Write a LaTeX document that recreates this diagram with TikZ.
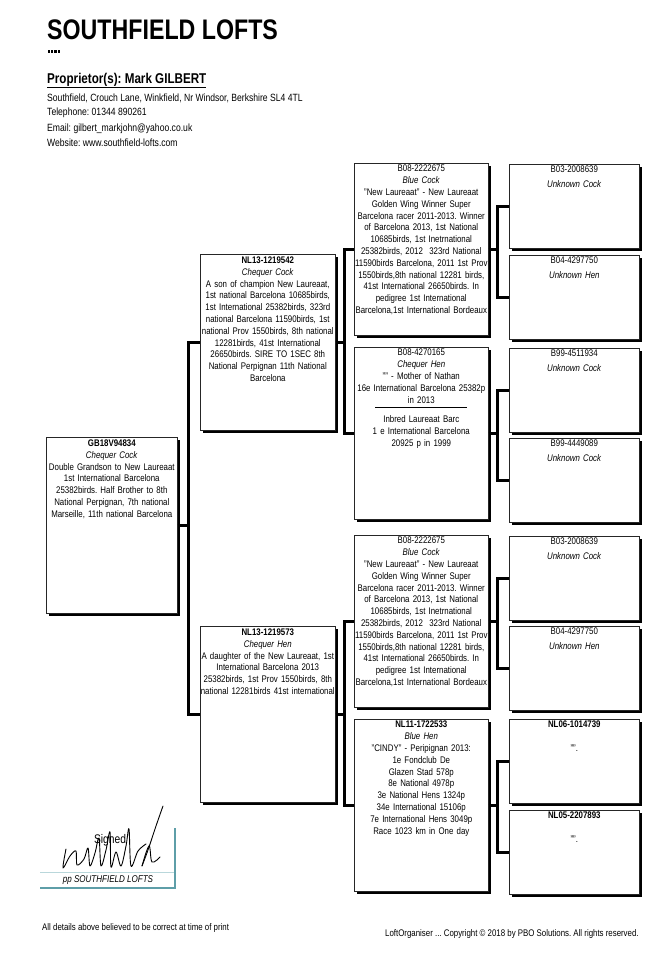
\documentclass[tikz,border=0pt]{standalone}
\usepackage{fontspec}
\setmainfont{Liberation Sans}[FakeStretch=0.82]
\usetikzlibrary{positioning,shadows}
\frenchspacing
\definecolor{sig}{HTML}{5E9EA8}
\definecolor{sigl}{HTML}{B9D7DB}
\tikzset{
  kasten/.style={draw=black!85,line width=0.6pt,fill=white,anchor=north west,inner sep=0pt,
    general shadow={fill=black,shadow xshift=3pt,shadow yshift=-3pt}},
  gen1/.style={kasten,minimum width=131pt,minimum height=176pt},
  gen2/.style={kasten,minimum width=135pt,minimum height=176pt},
  gen3/.style={kasten,minimum width=134pt,minimum height=172pt},
  gen4/.style={kasten,minimum width=130pt,minimum height=84pt},
  txt/.style={align=center,inner sep=0pt,text width=#1,font=\fontsize{9.6}{11.8}\selectfont},
  adr/.style={anchor=base west,inner sep=0pt,font=\fontsize{10.5}{12}\selectfont},
  fuss/.style={anchor=base west,inner sep=0pt,font=\fontsize{9.6}{11}\selectfont},
  linie/.style={line width=2.4pt,line join=miter},
}

\begin{document}
\begin{tikzpicture}[x=1pt,y=-1pt]
  \fill[white] (0,0) rectangle (657,962);
  \useasboundingbox (0,0) rectangle (657,962);
  % Kopf
  \node[anchor=base west,inner sep=0pt,font=\bfseries\fontsize{28.3}{30}\selectfont] (titel) at (47,39) {SOUTHFIELD LOFTS};
  \foreach \i in {0,...,3} \fill (48+\i*3.2,50) rectangle ++(2.2,2.6);
  \node[anchor=base west,inner sep=0pt,font=\bfseries\fontsize{14.2}{16}\selectfont] (inhaber) at (47,83) {\underline{Proprietor(s): Mark GILBERT}};
  \node[adr] (adresse) at (47,101) {Southfield, Crouch Lane, Winkfield, Nr Windsor, Berkshire SL4 4TL};
  \node[adr] (telefon) at (47,115.5) {Telephone: 01344 890261};
  \node[adr] (email) at (47,131) {Email: gilbert\_markjohn@yahoo.co.uk};
  \node[adr] (web) at (47,146) {Website: www.southfield-lofts.com};

  % Taube
  \node[gen1] (g1) at (46,437) {};
  \node[txt=129pt,below=2.5pt of g1.north] (g1t) {\textbf{GB18V94834}\\\textit{Chequer Cock}\\Double Grandson to New Laureaat\\1st International Barcelona\\25382birds. Half Brother to 8th\\National Perpignan, 7th national\\Marseille, 11th national Barcelona};

  % Eltern
  \node[gen2] (g2a) at (200,254) {};
  \node[txt=135pt,below=2.5pt of g2a.north] (g2at) {\textbf{NL13-1219542}\\\textit{Chequer Cock}\\A son of champion New Laureaat,\\1st national Barcelona 10685birds,\\1st International 25382birds, 323rd\\national Barcelona 11590birds, 1st\\national Prov 1550birds, 8th national\\12281birds, 41st International\\26650birds. SIRE TO 1SEC 8th\\National Perpignan 11th National\\Barcelona};
  \node[gen2] (g2b) at (200,626) {};
  \node[txt=135pt,below=2.5pt of g2b.north] (g2bt) {\textbf{NL13-1219573}\\\textit{Chequer Hen}\\A daughter of the New Laureaat, 1st\\International Barcelona 2013\\25382birds, 1st Prov 1550birds, 8th\\national 12281birds 41st international};

  % Grosseltern
  \node[gen3] (g3a) at (354,163) {};
  \node[txt=134pt,below=2pt of g3a.north] (g3at) {B08-2222675\\\textit{Blue Cock}\\"New Laureaat" - New Laureaat\\Golden Wing Winner Super\\Barcelona racer 2011-2013. Winner\\of Barcelona 2013, 1st National\\10685birds, 1st Inetrnational\\25382birds, 2012~~323rd National\\11590birds Barcelona, 2011 1st Prov\\1550birds,8th national 12281 birds,\\41st International 26650birds. In\\pedigree 1st International\\Barcelona,1st International Bordeaux};
  \node[gen3] (g3b) at (354,347) {};
  \node[txt=134pt,below=2pt of g3b.north] (g3bt) {B08-4270165\\\textit{Chequer Hen}\\"" - Mother of Nathan\\16e International Barcelona 25382p\\in 2013\\\rule[7pt]{92pt}{0.7pt}\\[-4pt]Inbred Laureaat Barc\\1 e International Barcelona\\20925 p in 1999};
  \node[gen3] (g3c) at (354,535) {};
  \node[txt=134pt,below=2pt of g3c.north] (g3ct) {B08-2222675\\\textit{Blue Cock}\\"New Laureaat" - New Laureaat\\Golden Wing Winner Super\\Barcelona racer 2011-2013. Winner\\of Barcelona 2013, 1st National\\10685birds, 1st Inetrnational\\25382birds, 2012~~323rd National\\11590birds Barcelona, 2011 1st Prov\\1550birds,8th national 12281 birds,\\41st International 26650birds. In\\pedigree 1st International\\Barcelona,1st International Bordeaux};
  \node[gen3] (g3d) at (354,719) {};
  \node[txt=134pt,below=2pt of g3d.north] (g3dt) {\textbf{NL11-1722533}\\\textit{Blue Hen}\\"CINDY" - Peripignan 2013:\\1e Fondclub De\\Glazen Stad 578p\\8e National 4978p\\3e National Hens 1324p\\34e International 15106p\\7e International Hens 3049p\\Race 1023 km in One day};

  % Urgrosseltern
  \node[gen4] (g4a) at (509,164) {};
  \node[txt=130pt,below=2pt of g4a.north] (g4at) {B03-2008639\\[3pt]\textit{Unknown Cock}};
  \node[gen4] (g4b) at (509,255) {};
  \node[txt=130pt,below=2pt of g4b.north] (g4bt) {B04-4297750\\[3pt]\textit{Unknown Hen}};
  \node[gen4] (g4c) at (509,348) {};
  \node[txt=130pt,below=2pt of g4c.north] (g4ct) {B99-4511934\\[3pt]\textit{Unknown Cock}};
  \node[gen4] (g4d) at (509,438) {};
  \node[txt=130pt,below=2pt of g4d.north] (g4dt) {B99-4449089\\[3pt]\textit{Unknown Cock}};
  \node[gen4] (g4e) at (509,536) {};
  \node[txt=130pt,below=2pt of g4e.north] (g4et) {B03-2008639\\[3pt]\textit{Unknown Cock}};
  \node[gen4] (g4f) at (509,626) {};
  \node[txt=130pt,below=2pt of g4f.north] (g4ft) {B04-4297750\\[3pt]\textit{Unknown Hen}};
  \node[gen4] (g4g) at (509,719) {};
  \node[txt=130pt,below=2pt of g4g.north] (g4gt) {\textbf{NL06-1014739}\\[12pt]"".};
  \node[gen4] (g4h) at (509,810) {};
  \node[txt=130pt,below=2pt of g4h.north] (g4ht) {\textbf{NL05-2207893}\\[12pt]"".};

  % Verbindungen
  \draw[linie] (g1.east) -- ++(11,0) |- (g2a.west);
  \draw[linie] (g1.east) -- ++(11,0) |- (g2b.west);
  \draw[linie] (g2a.east) -- ++(9,0) |- (g3a.west);
  \draw[linie] (g2a.east) -- ++(9,0) |- (g3b.west);
  \draw[linie] (g2b.east) -- ++(9,0) |- (g3c.west);
  \draw[linie] (g2b.east) -- ++(9,0) |- (g3d.west);
  \draw[linie] (g3a.east) -- ++(9,0) |- (g4a.west);
  \draw[linie] (g3a.east) -- ++(9,0) |- (g4b.west);
  \draw[linie] (g3b.east) -- ++(9,0) |- (g4c.west);
  \draw[linie] (g3b.east) -- ++(9,0) |- (g4d.west);
  \draw[linie] (g3c.east) -- ++(9,0) |- (g4e.west);
  \draw[linie] (g3c.east) -- ++(9,0) |- (g4f.west);
  \draw[linie] (g3d.east) -- ++(9,0) |- (g4g.west);
  \draw[linie] (g3d.east) -- ++(9,0) |- (g4h.west);

  % Unterschrift
  \draw[sigl,line width=0.6pt] (40,872) -- (175,872);
  \draw[sig,line width=1.1pt] (175,828) -- (175,888) -- (40,888);
  \node[anchor=base,inner sep=0pt,font=\fontsize{12.5}{14}\selectfont] (signiert) at (110,843.5) {Signed};
  \node[anchor=base,inner sep=0pt,font=\itshape\fontsize{9.8}{11}\selectfont] (pp) at (108,882.5) {pp SOUTHFIELD LOFTS};
  \draw[line width=0.9pt,line cap=round,line join=round] plot[smooth,tension=0.55] coordinates {(66,849) (63,868) (70,856) (76,851) (77,865) (84,859) (88,848) (90,866) (95,853) (99,838) (101,866) (106,850) (110,832) (111,867) (116,852) (121,866) (126,846) (129,829) (131,866) (138,851) (146,844)};
  \draw[line width=0.9pt,line cap=round] plot[smooth,tension=0.6] coordinates {(163,806) (156,826) (148,850) (142,866)};
  \draw[line width=0.9pt,line cap=round] plot[smooth,tension=0.6] coordinates {(142,866) (149,846) (152,862) (160,857)};

  % Fusszeile
  \node[fuss] (hinweis) at (42,930.5) {All details above believed to be correct at time of print};
  \node[fuss] (copyright) at (385,936.5) {LoftOrganiser ... Copyright © 2018 by PBO Solutions. All rights reserved.};
\end{tikzpicture}
\end{document}
